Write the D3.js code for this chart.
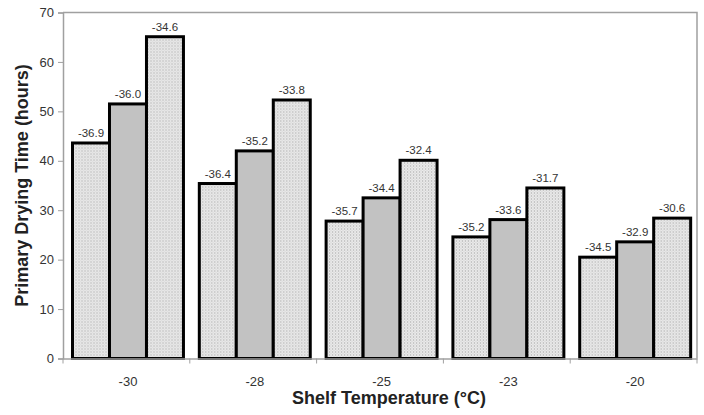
<!DOCTYPE html>
<html>
<head>
<meta charset="utf-8">
<script src="https://cdn.jsdelivr.net/npm/d3@7"></script>
<style>
  body { margin: 0; background: #fff; }
  svg { font-family: Arial, "Liberation Sans", sans-serif; }
</style>
</head>
<body>
<div id="chart"></div>
<script>
// shelf temperatures (categories)
var categories = ["-30", "-28", "-25", "-23", "-20"];
// primary drying time (hours) for the three bars in each group
var series1 = [43.6, 35.4, 27.8, 24.6, 20.5];
var series2 = [51.5, 42.0, 32.5, 28.1, 23.6];
var series3 = [65.1, 52.3, 40.1, 34.5, 28.4];
// product temperature labels above each bar
var labels1 = ["-36.9", "-36.4", "-35.7", "-35.2", "-34.5"];
var labels2 = ["-36.0", "-35.2", "-34.4", "-33.6", "-32.9"];
var labels3 = ["-34.6", "-33.8", "-32.4", "-31.7", "-30.6"];
var yTicks = [0, 10, 20, 30, 40, 50, 60, 70];

var margin = { top: 12.5, right: 7, bottom: 56.5, left: 63 };
var width = 704 - margin.left - margin.right;
var height = 415 - margin.top - margin.bottom;

var svg = d3.select("#chart").append("svg")
  .attr("width", 704)
  .attr("height", 415);

// dotted fill
var defs = svg.append("defs");
var pat = defs.append("pattern")
  .attr("id", "dots")
  .attr("patternUnits", "userSpaceOnUse")
  .attr("width", 3)
  .attr("height", 3);
pat.append("rect").attr("width", 3).attr("height", 3).attr("fill", "#ececec");
pat.append("rect").attr("x", 0).attr("y", 0).attr("width", 1).attr("height", 1).attr("fill", "#9a9a9a");
pat.append("rect").attr("x", 1.5).attr("y", 1.5).attr("width", 1).attr("height", 1).attr("fill", "#b8b8b8");

var g = svg.append("g")
  .attr("transform", "translate(" + margin.left + "," + margin.top + ")");

var x0 = d3.scaleBand().domain(categories).range([0, width])
  .paddingInner(0.125).paddingOuter(0.0625).align(0.6);
var x1 = d3.scaleBand().domain([0, 1, 2]).range([0, x0.bandwidth()]);
var y = d3.scaleLinear().domain([0, 70]).range([height, 0]);

// plot frame (top and right)
g.append("path")
  .attr("d", "M0,0H" + width + "V" + height)
  .attr("fill", "none")
  .attr("stroke", "#a0a0a0")
  .attr("stroke-width", 1.5);

var rows = categories.map(function (c, i) {
  return [
    { cat: c, s: 0, v: series1[i], lab: labels1[i] },
    { cat: c, s: 1, v: series2[i], lab: labels2[i] },
    { cat: c, s: 2, v: series3[i], lab: labels3[i] }
  ];
});

var groups = g.selectAll(".grp")
  .data(rows)
  .enter().append("g")
  .attr("class", "grp")
  .attr("transform", function (d) { return "translate(" + x0(d[0].cat) + ",0)"; });

groups.selectAll("rect")
  .data(function (d) { return d; })
  .enter().append("rect")
  .attr("x", function (d) { return x1(d.s); })
  .attr("width", x1.bandwidth())
  .attr("y", function (d) { return y(d.v); })
  .attr("height", function (d) { return height - y(d.v); })
  .attr("fill", function (d) { return d.s === 1 ? "#c2c2c2" : "url(#dots)"; })
  .attr("stroke", "#000")
  .attr("stroke-width", 3);

groups.selectAll("text")
  .data(function (d) { return d; })
  .enter().append("text")
  .attr("x", function (d) { return x1(d.s) + x1.bandwidth() / 2; })
  .attr("y", function (d) { return y(d.v) - 6; })
  .attr("text-anchor", "middle")
  .attr("font-size", 11.5)
  .attr("fill", "#333")
  .text(function (d) { return d.lab; });

// y axis
var yAxis = g.append("g")
  .call(d3.axisLeft(y).tickValues(yTicks).tickSize(5).tickPadding(4));
yAxis.select(".domain").attr("stroke", "#a0a0a0").attr("stroke-width", 1.5);
yAxis.selectAll(".tick line").attr("stroke", "#a0a0a0");
yAxis.selectAll(".tick text").attr("font-size", 13).attr("fill", "#333").attr("font-family", "Arial, sans-serif");

// x axis: ticks at category boundaries
var xAxis = g.append("g")
  .attr("transform", "translate(0," + height + ")")
  .call(d3.axisBottom(x0).tickSize(0).tickPadding(18));
xAxis.select(".domain").attr("stroke", "#a0a0a0").attr("stroke-width", 1.5);
xAxis.selectAll(".tick text").attr("font-size", 13).attr("fill", "#333").attr("font-family", "Arial, sans-serif");
xAxis.selectAll(".sep")
  .data(d3.range(categories.length + 1))
  .enter().append("line")
  .attr("x1", function (i) { return i * width / categories.length; })
  .attr("x2", function (i) { return i * width / categories.length; })
  .attr("y1", 0)
  .attr("y2", 5)
  .attr("stroke", "#a0a0a0");

// axis titles
svg.append("text")
  .attr("x", 389)
  .attr("y", 404)
  .attr("text-anchor", "middle")
  .attr("font-size", 18)
  .attr("font-weight", "bold")
  .attr("fill", "#222")
  .text("Shelf Temperature (°C)");

svg.append("text")
  .attr("transform", "translate(28," + (margin.top + height / 2) + ") rotate(-90)")
  .attr("text-anchor", "middle")
  .attr("font-size", 18)
  .attr("font-weight", "bold")
  .attr("fill", "#222")
  .text("Primary Drying Time (hours)");
</script>
</body>
</html>
